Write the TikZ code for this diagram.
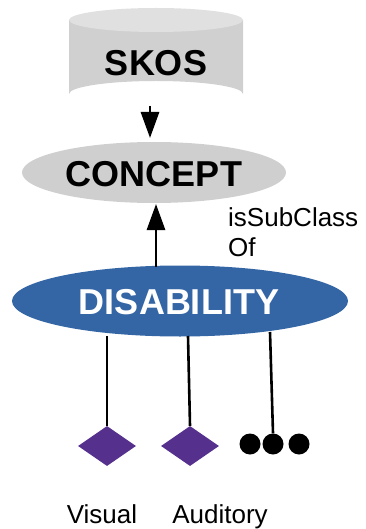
\documentclass[tikz,border=0pt]{standalone}
\usepackage{fontspec}
\setmainfont{Liberation Sans}
\usetikzlibrary{shapes.geometric,arrows.meta}
\definecolor{cylbody}{HTML}{D0D0D0}
\definecolor{cyltop}{HTML}{E0E0E0}
\definecolor{conceptgray}{HTML}{CFCFCF}
\definecolor{disblue}{HTML}{3465A4}
\definecolor{itempurple}{HTML}{55308D}
\tikzset{
  title/.style={font=\fontsize{36}{40}\selectfont\bfseries},
  label/.style={font=\fontsize{26}{30}\selectfont},
  oval/.style={ellipse, inner sep=0pt},
  item/.style={diamond, fill=itempurple, minimum width=58pt, minimum height=40pt, inner sep=0pt},
  dot/.style={circle, fill=black, minimum size=21pt, inner sep=0pt},
  link/.style={line width=2.6pt},
  subarrow/.style={line width=2.8pt, -{Triangle[length=26pt,width=18pt]}},
}
\begin{document}
\begin{tikzpicture}[x=1pt,y=-1pt]
\useasboundingbox (0,0) rectangle (365,529);
% database cylinder
\fill[cylbody] (69,20) -- (69,94) arc[start angle=180,end angle=360,x radius=87,y radius=13] -- (243,20) -- cycle;
\fill[cyltop] (156,20) ellipse[x radius=87,y radius=12];
\node[title] (skos) at (156,63) {SKOS};
\coordinate (skosb) at (150,106);
% concept and disability ovals
\node[oval, fill=conceptgray, minimum width=264pt, minimum height=61pt] (concept) at (154,172.5) {};
\node[title] at (154,174) {CONCEPT};
\node[oval, fill=disblue, minimum width=336pt, minimum height=71pt] (dis) at (180,301) {};
\node[title, text=white] at (179,302) {DISABILITY};
% subclass arrows
\coordinate (conT) at (150,138);
\coordinate (conB) at (156,204);
\coordinate (disT) at (156,267);
\draw[subarrow] (skosb) -- (conT);
\draw[subarrow] (disT) -- (conB);
\node[label, anchor=north west, align=left, inner sep=0pt] (rel) at (228,207) {isSubClass\\Of};
% instances
\node[item] (visual) at (107,446) {};
\node[item] (auditory) at (190,446) {};
\node[dot] (d1) at (250,444) {};
\node[dot] (d2) at (273,444) {};
\node[dot] (d3) at (299,444) {};
\draw[link] (107,336) -- (visual.north);
\draw[link] (188,336) -- (auditory.north);
\draw[link] (270,332) -- (d2.north);
\node[label, anchor=base] (lv) at (102,523) {Visual};
\node[label, anchor=base] (la) at (220,523) {Auditory};
\end{tikzpicture}
\end{document}
